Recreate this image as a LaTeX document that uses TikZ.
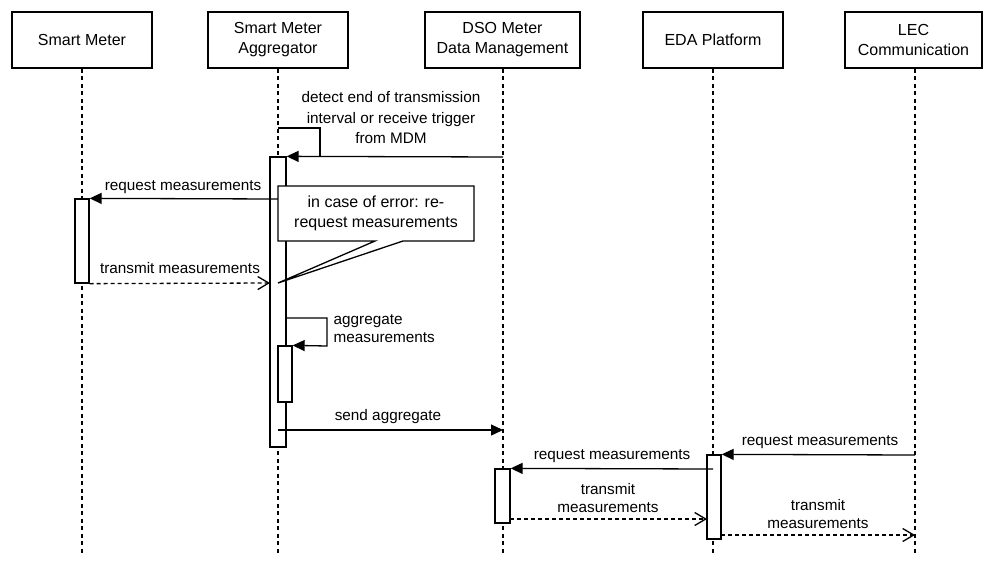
\documentclass[tikz,border=0pt]{standalone}
\usepackage{fontspec}
\setmainfont{Liberation Sans}
\usetikzlibrary{arrows.meta}
\begin{document}
\begin{tikzpicture}[x=1pt,y=-1pt,
  line width=1.3pt,
  head/.style={draw, fill=white, line width=1.3pt, minimum width=140pt, minimum height=56pt,
    inner sep=0pt, align=center, font=\fontsize{16}{20}\selectfont},
  life/.style={line width=1.3pt, dash pattern=on 4pt off 3.5pt},
  act/.style={draw, fill=white, line width=1.3pt, inner sep=0pt},
  msg/.style={-{Triangle[length=12pt,width=11pt]}},
  reply/.style={dash pattern=on 4pt off 3pt, -{Straight Barb[length=11pt,width=13pt,line width=1.3pt]}},
  lbl/.style={inner sep=0pt, align=center, font=\fontsize{15.3}{18}\selectfont},
  notebox/.style={draw, fill=white, line width=1.3pt, line join=miter}
]
\useasboundingbox (0,0) rectangle (984,563);

% participants
\node[head] (sm)  at (82,40)  {Smart Meter};
\node[head] (agg) at (278,40) {Smart Meter\\Aggregator};
\node[head, minimum width=155pt] (dso) at (502.5,40) {DSO Meter\\Data Management};
\node[head] (eda) at (713,40) {EDA Platform};
\node[head, minimum width=137pt] (lec) at (913.5,40) {LEC\\Communication};

% lifelines
\coordinate (smEnd)  at (82,556);
\coordinate (aggEnd) at (278,556);
\coordinate (dsoEnd) at (503,556);
\coordinate (edaEnd) at (713,556);
\coordinate (lecEnd) at (915,556);
\draw[life] (sm.south)  -- (smEnd);
\draw[life] (agg.south) -- (aggEnd);
\draw[life] ([xshift=0.5pt]dso.south) -- (dsoEnd);
\draw[life] (eda.south) -- (edaEnd);
\draw[life] ([xshift=1.5pt]lec.south) -- (lecEnd);

% activation bars
\node[act, minimum width=16pt, minimum height=290pt] (aggA) at (278,302) {};
\node[act, minimum width=14pt, minimum height=56pt]  (aggB) at (285,374) {};
\node[act, minimum width=14pt, minimum height=84pt]  (smA)  at (82,241)  {};
\node[act, minimum width=15pt, minimum height=54pt]  (dsoA) at (502.5,496) {};
\node[act, minimum width=14pt, minimum height=84pt]  (edaA) at (714,497) {};

% trigger from the MDM / end of interval
\coordinate (loopS) at (278,128);
\coordinate (loopE) at (320,157);
\coordinate (trigS) at (503,157);
\draw (loopS) -| (loopE);
\draw[msg] (trigS) -- (aggA.north east);
\node[lbl, font=\fontsize{15.3}{20.5}\selectfont] (trigL) at (391,118)
  {detect end of transmission\\interval or receive trigger\\from MDM};

% request to the smart meter
\coordinate (reqS) at (278,199);
\draw[msg] (reqS) -- (smA.north east);
\node[lbl] (reqL) at (183,187) {request measurements};

% transmit back to the aggregator
\coordinate (trE) at (270,283);
\draw[reply] (smA.south east) -- (trE);
\node[lbl] (trL) at (180,268) {transmit measurements};

% error note
\coordinate (tip) at (278,283);
\draw[notebox] (278,186) -- (474,186) -- (474,241) -- (403,241) -- (tip)
  -- (375,241) -- (278,241) -- cycle;
\node[lbl, font=\fontsize{16}{20}\selectfont] (note) at (376,213)
  {in case of error: re-\\request measurements};

% aggregation self call
\coordinate (agS) at (286,318);
\coordinate (agC) at (327,318);
\coordinate (agD) at (327,346);
\draw[msg] (agS) -- (agC) -- (agD) -- (aggB.north east);
\node[lbl, anchor=west, align=left] (agL) at (333,329) {aggregate\\measurements};

% aggregate sent to the MDM
\coordinate (saS) at (278,430);
\coordinate (saE) at (503,430);
\draw[msg] (saS) -- (saE);
\node[lbl] (saL) at (388,417) {send aggregate};

% LEC requests from the EDA platform
\coordinate (lrS) at (915,455);
\draw[msg] (lrS) -- (edaA.north east);
\node[lbl] (lrL) at (820,442) {request measurements};

% EDA requests from the MDM
\coordinate (erS) at (713,469);
\draw[msg] (erS) -- (dsoA.north east);
\node[lbl] (erL) at (612,456) {request measurements};

% MDM transmits to the EDA platform
\coordinate (dtS) at (510,519);
\coordinate (dtE) at (707,519);
\draw[reply] (dtS) -- (dtE);
\node[lbl] (dtL) at (608,498) {transmit\\measurements};

% EDA transmits to the LEC
\coordinate (etS) at (721,535);
\coordinate (etE) at (915,535);
\draw[reply] (etS) -- (etE);
\node[lbl] (etL) at (818,514) {transmit\\measurements};
\end{tikzpicture}
\end{document}
